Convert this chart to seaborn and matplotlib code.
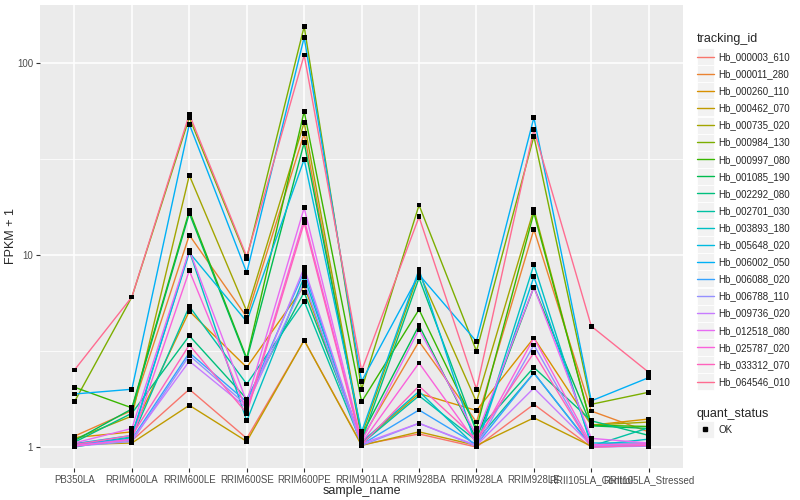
import matplotlib
matplotlib.use("Agg")
import matplotlib.pyplot as plt
from matplotlib.lines import Line2D
from matplotlib.patches import Rectangle
from matplotlib.legend_handler import HandlerLine2D
import numpy as np
import pandas as pd
import seaborn as sns

samples = ["PB350LA", "RRIM600LA", "RRIM600LE", "RRIM600SE", "RRIM600PE",
           "RRIM901LA", "RRIM928BA", "RRIM928LA", "RRIM928LE",
           "RRII105LA_Control", "RRII105LA_Stressed"]

genes = ["Hb_000003_610", "Hb_000011_280", "Hb_000260_110", "Hb_000462_070",
         "Hb_000735_020", "Hb_000984_130", "Hb_000997_080", "Hb_001085_190",
         "Hb_002292_080", "Hb_002701_030", "Hb_003893_180", "Hb_005648_020",
         "Hb_006002_050", "Hb_006088_020", "Hb_006788_110", "Hb_009736_020",
         "Hb_012518_080", "Hb_025787_020", "Hb_033312_070", "Hb_064546_010"]

# FPKM + 1, one row per gene, columns follow `samples`
fpkm = [
    [1.05, 1.08, 2.0, 1.11, 3.6, 1.03, 1.17, 1.0, 1.67, 1.0, 1.02],
    [1.14, 1.55, 12.7, 4.75, 43, 1.1, 3.55, 1.35, 13.6, 1.54, 1.2],
    [1.12, 1.2, 5.1, 2.6, 6.9, 1.05, 1.9, 1.55, 3.7, 1.3, 1.4],
    [1.03, 1.05, 1.65, 1.07, 3.6, 1.02, 1.2, 1.02, 1.42, 1.01, 1.03],
    [1.1, 1.45, 26, 5.1, 49, 1.15, 8.1, 1.72, 17.3, 1.3, 1.35],
    [1.72, 6.05, 52, 9.6, 155, 2.0, 18.2, 3.16, 41.5, 1.67, 1.93],
    [2.05, 1.6, 17, 2.9, 56, 1.72, 5.2, 1.25, 16.6, 1.3, 1.28],
    [1.08, 1.58, 16.5, 2.85, 38.5, 1.15, 4.3, 1.1, 6.8, 1.29, 1.25],
    [1.06, 1.5, 3.8, 1.78, 6.4, 1.08, 7.6, 1.2, 2.6, 1.37, 1.15],
    [1.0, 1.12, 5.4, 2.13, 5.75, 1.04, 1.85, 1.08, 2.43, 1.01, 1.26],
    [1.02, 1.13, 10.5, 1.37, 7.7, 1.06, 1.95, 1.0, 8.9, 1.02, 1.1],
    [1.04, 1.15, 10.3, 4.5, 31.5, 1.2, 8.4, 1.0, 7.7, 1.05, 1.05],
    [1.89, 2.0, 48, 8.1, 136, 2.2, 7.9, 3.55, 52, 1.74, 2.3],
    [1.03, 1.1, 3.1, 1.72, 8.2, 1.03, 1.56, 1.03, 2.43, 1.01, 1.02],
    [1.01, 1.07, 3.0, 1.65, 7.2, 1.02, 1.33, 1.01, 3.4, 1.0, 1.01],
    [1.02, 1.09, 2.8, 1.6, 8.6, 1.04, 1.33, 1.02, 2.03, 1.02, 1.03],
    [1.05, 1.25, 10.6, 1.72, 17.6, 1.07, 4.1, 1.15, 6.8, 1.11, 1.05],
    [1.01, 1.1, 8.3, 1.55, 15.4, 1.05, 2.74, 1.05, 3.7, 1.03, 1.04],
    [1.03, 1.15, 3.4, 1.5, 14.7, 1.03, 2.08, 1.1, 3.1, 1.0, 1.02],
    [2.52, 6.05, 54, 9.8, 110, 2.5, 15.8, 2.0, 45, 4.26, 2.45],
]

# ggplot2 hue palette for 20 levels
hue_colors = ["#F8766D", "#EA8331", "#D89000", "#C09B00", "#A3A500",
              "#7CAE00", "#39B600", "#00BB4E", "#00BF7D", "#00C1A3",
              "#00BFC4", "#00BAE0", "#00B0F6", "#35A2FF", "#9590FF",
              "#C77CFF", "#E76BF3", "#FA62DB", "#FF62BC", "#FF6C91"]


class KeyHandler(HandlerLine2D):
    # ggplot-like legend key: grey box behind the glyph
    def create_artists(self, legend, orig_handle, xdescent, ydescent,
                       width, height, fontsize, trans):
        size = 17 * 72 / legend.figure.dpi
        box = Rectangle((-xdescent, height / 2 - size / 2), width, size,
                        facecolor="#F2F2F2", edgecolor="white", lw=0.6,
                        transform=trans)
        arts = super().create_artists(legend, orig_handle, xdescent, ydescent,
                                      width, height, fontsize, trans)
        return [box] + arts


rows = []
for g, vals in zip(genes, fpkm):
    for s, v in zip(samples, vals):
        rows.append({"tracking_id": g, "sample_name": s, "fpkm": v,
                     "x": samples.index(s)})
df = pd.DataFrame(rows)

sns.set_theme(style="darkgrid")
plt.rcParams["font.family"] = ["Liberation Sans", "DejaVu Sans"]

fig = plt.figure(figsize=(8, 5), dpi=100)
ax = fig.add_axes([0.05, 0.064, 0.804, 0.926])
ax.set_facecolor("#EBEBEB")

sns.lineplot(data=df, x="x", y="fpkm", hue="tracking_id", hue_order=genes,
             palette=hue_colors, lw=1, sort=False, estimator=None,
             legend=False, ax=ax)
sns.scatterplot(data=df, x="x", y="fpkm", color="black", s=12,
                marker="s", edgecolor="none", legend=False, ax=ax, zorder=5)

ax.set_yscale("log")
ax.set_ylim(10 ** -0.109, 10 ** 2.302)
ax.set_xlim(-0.6, len(samples) - 0.4)
ax.set_yticks([1, 10, 100])
ax.set_yticklabels(["1", "10", "100"])
ax.set_yticks([10 ** 0.5, 10 ** 1.5], minor=True)
ax.yaxis.set_minor_formatter(matplotlib.ticker.NullFormatter())
ax.set_xticks(range(len(samples)))
ax.set_xticklabels(samples)

ax.grid(which="major", color="white", lw=1.1)
ax.grid(which="minor", axis="y", color="white", lw=0.55)
for sp in ax.spines.values():
    sp.set_visible(False)
ax.tick_params(axis="both", which="major", length=3, width=0.8,
               color="#333333", labelsize=7, labelcolor="#4D4D4D", pad=2,
               bottom=True, left=True)
ax.tick_params(axis="y", which="minor", length=0)
ax.set_xlabel("sample_name", fontsize=9, labelpad=0)
ax.set_ylabel("FPKM + 1", fontsize=9)
ax.yaxis.set_label_coords(-0.036, 0.5)

# legends
line_handles = [Line2D([0], [0], color=c, lw=1) for c in hue_colors]
leg1 = fig.legend(line_handles, genes, title="tracking_id", loc="upper left",
                  bbox_to_anchor=(0.871, 0.934), frameon=False, fontsize=7,
                  title_fontsize=9, handlelength=1.75, handletextpad=0.5,
                  labelspacing=0.73, borderaxespad=0, borderpad=0,
                  handler_map={Line2D: KeyHandler()})
leg1._legend_box.align = "left"
pt_handle = [Line2D([0], [0], color="black", marker="s", ms=2.5, lw=0)]
leg2 = fig.legend(pt_handle, ["OK"], title="quant_status", loc="upper left",
                  bbox_to_anchor=(0.871, 0.184), frameon=False, fontsize=7,
                  title_fontsize=9, handlelength=1.75, handletextpad=0.5,
                  borderaxespad=0, borderpad=0,
                  handler_map={Line2D: KeyHandler()})
leg2._legend_box.align = "left"

fig.savefig("out.png", dpi=100)
